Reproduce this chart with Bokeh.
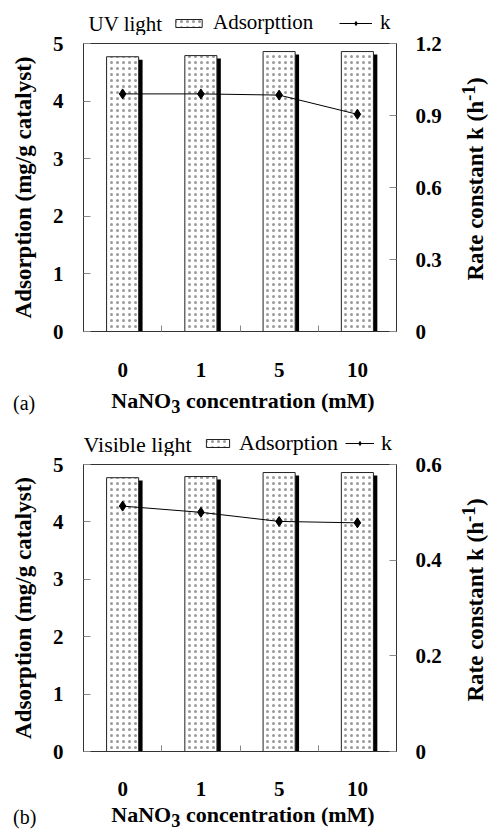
import numpy as np
from bokeh.plotting import figure
from bokeh.models import (Range1d, LinearAxis, FixedTicker, Legend, LegendItem,
                          Label, ColumnDataSource, Div)
from bokeh.transform import dodge
from bokeh.layouts import column, row
from bokeh.embed import file_html
from bokeh.resources import INLINE

# ---------------- data ----------------
concentrations = ["0", "1", "5", "10"]
uv_adsorption = [4.77, 4.79, 4.86, 4.86]
uv_k = [0.990, 0.990, 0.985, 0.905]
vis_adsorption = [4.77, 4.79, 4.86, 4.86]
vis_k = [0.513, 0.500, 0.481, 0.478]
ads_ticks = [0, 1, 2, 3, 4, 5]
uv_k_ticks = [0, 0.3, 0.6, 0.9, 1.2]
vis_k_ticks = [0, 0.2, 0.4, 0.6]
x_title = "NaNO<sub>3</sub> concentration (mM)"
k_title = "Rate constant k (h<sup>-1</sup>)"

FONT = "Liberation Serif"
AX = "#333333"
TICK = "#888888"
W = 461            # figure width; a 28px column to its right holds the k-axis title
LEFT = 83
FRAME_W = 313
RIGHT = W - LEFT - FRAME_W
BAR_W = 0.41
BAR_STYLE = dict(fill_color="white", line_color="#222222", line_width=1,
                 hatch_pattern="dot", hatch_color="#9a9a9a", hatch_scale=6, hatch_weight=0.5)
LINE_STYLE = dict(line_color="black", line_width=1)
PT_STYLE = dict(marker="diamond", size=10, fill_color="black", line_color="black")


def make_source(ads, k):
    xs = np.arange(len(concentrations)) + 0.5
    return xs, ColumnDataSource(dict(x=xs, ads=ads, k=k))


def legend_fig(src, height, light_label, light_x, ads_label, leg_x, glyph_w, standoff,
               spacing, row_y, font_size):
    f = figure(width=W, height=height, x_range=Range1d(0, FRAME_W), y_range=Range1d(0, height),
               x_axis_type=None, y_axis_type=None, output_backend="svg",
               toolbar_location=None, min_border_left=LEFT, min_border_right=RIGHT,
               min_border_top=0, min_border_bottom=0)
    f.outline_line_color = None
    f.xgrid.visible = False
    f.ygrid.visible = False
    # hidden style proxies of the two series, used only for the legend swatches
    pb = f.vbar(x="x", top="ads", width=BAR_W, source=src, visible=False, **BAR_STYLE)
    pl = f.line("x", "k", source=src, visible=False, **LINE_STYLE)
    pp = f.scatter("x", "k", source=src, visible=False, **PT_STYLE)
    f.add_layout(Legend(items=[LegendItem(label=ads_label, renderers=[pb]),
                               LegendItem(label="k", renderers=[pl, pp])],
                        orientation="horizontal", location=(leg_x, row_y - 12),
                        glyph_width=glyph_w, glyph_height=10, label_height=24,
                        label_standoff=standoff, spacing=spacing, padding=0, margin=0,
                        border_line_color=None, background_fill_alpha=0,
                        inactive_fill_alpha=0,
                        label_text_font=FONT, label_text_font_size=font_size,
                        label_text_color="black"))
    f.add_layout(Label(x=light_x, y=row_y, x_units="screen", y_units="screen",
                       text=light_label, text_font=FONT, text_font_size=font_size,
                       text_baseline="middle", text_color="black"))
    return f


def caption(tag, height, center_y):
    html = (
        f'<div style="position:relative;width:489px;height:{height}px;'
        f'font-family:\'{FONT}\',serif;color:black;">'
        f'<span style="position:absolute;left:13px;top:{center_y}px;transform:translateY(-50%);'
        f'font-size:20px;line-height:1;">{tag}</span>'
        f'<span style="position:absolute;left:243px;top:{center_y}px;transform:translate(-50%,-50%);'
        f'font-size:22px;font-weight:bold;line-height:1;white-space:nowrap;">{x_title}</span>'
        '</div>')
    return Div(text=html, width=489, height=height, margin=0)


def right_title(height, center_y):
    html = (
        f'<div style="position:relative;width:28px;height:{height}px;'
        f'font-family:\'{FONT}\',serif;color:black;">'
        f'<span style="position:absolute;left:12px;top:{center_y}px;'
        f'transform:translate(-50%,-50%) rotate(-90deg);font-size:23px;font-weight:bold;'
        f'line-height:1;white-space:nowrap;">{k_title}</span>'
        '</div>')
    return Div(text=html, width=28, height=height, margin=0)


def main_fig(xs, src, k_ticks, top, frame_h, bottom, tick_standoff):
    n = len(concentrations)
    p = figure(width=W, height=top + frame_h + bottom,
               x_range=Range1d(0, n), y_range=Range1d(0, max(ads_ticks)),
               output_backend="svg", toolbar_location=None,
               min_border_left=LEFT, min_border_right=RIGHT,
               min_border_top=top, min_border_bottom=bottom)
    p.xgrid.visible = False
    p.ygrid.visible = False
    p.outline_line_color = AX
    p.extra_y_ranges = {"k": Range1d(0, max(k_ticks))}

    p.vbar(x=dodge("x", 0.05), top=dodge("ads", -0.05), bottom=0, width=BAR_W, source=src,
           fill_color="black", line_color=None)
    p.vbar(x="x", top="ads", bottom=0, width=BAR_W, source=src, **BAR_STYLE)
    p.line("x", "k", source=src, y_range_name="k", **LINE_STYLE)
    p.scatter("x", "k", source=src, y_range_name="k", **PT_STYLE)

    xa = p.xaxis[0]
    xa.ticker = FixedTicker(ticks=list(xs), minor_ticks=list(np.arange(1, n)))
    xa.major_label_overrides = {float(v): c for v, c in zip(xs, concentrations)}
    xa.major_tick_line_color = None
    xa.minor_tick_in = 6
    xa.minor_tick_out = 0
    xa.minor_tick_line_color = TICK
    xa.axis_line_color = AX
    xa.major_label_standoff = tick_standoff

    ya = p.yaxis[0]
    ya.ticker = FixedTicker(ticks=ads_ticks, minor_ticks=[])
    ya.major_tick_in = 7
    ya.major_tick_out = 0
    ya.major_tick_line_color = TICK
    ya.axis_line_color = AX
    ya.major_label_standoff = 20
    ya.axis_label = "Adsorption (mg/g catalyst)"
    ya.axis_label_standoff = 14

    ra = LinearAxis(y_range_name="k", ticker=FixedTicker(ticks=k_ticks, minor_ticks=[]))
    ra.major_label_overrides = {0: "0"}
    ra.major_tick_in = 7
    ra.major_tick_out = 0
    ra.major_tick_line_color = TICK
    ra.axis_line_color = AX
    ra.major_label_standoff = 19
    p.add_layout(ra, "right")

    for a in (xa, ya, ra):
        a.major_label_text_font = FONT
        a.major_label_text_font_size = "21px"
        a.major_label_text_font_style = "bold"
        a.major_label_text_color = "black"
        a.axis_label_text_font = FONT
        a.axis_label_text_font_size = "23px"
        a.axis_label_text_font_style = "bold"
        a.axis_label_text_color = "black"
    return p


# panel (a): legend 0-35, chart 35-380, caption 380-420
xs1, src1 = make_source(uv_adsorption, uv_k)
leg1 = legend_fig(src1, 35, "UV light", 5, "Adsorpttion   ", 89, 33, 8, 10,
                  row_y=12, font_size="21px")
main1 = main_fig(xs1, src1, uv_k_ticks, top=8, frame_h=288, bottom=49, tick_standoff=25)
chart1 = row(main1, right_title(345, 144), spacing=0)
cap1 = caption("(a)", 40, 23)
# panel (b): legend 420-456, chart 456-800, caption 800-830
xs2, src2 = make_source(vis_adsorption, vis_k)
leg2 = legend_fig(src2, 36, "Visible light", 0, "Adsorption", 120, 29, 7, 7,
                  row_y=12, font_size="22px")
main2 = main_fig(xs2, src2, vis_k_ticks, top=8, frame_h=287, bottom=49, tick_standoff=24)
chart2 = row(main2, right_title(344, 144), spacing=0)
cap2 = caption("(b)", 30, 17)

layout = column(leg1, chart1, cap1, leg2, chart2, cap2, spacing=0)
open("out.html", "w").write(file_html(layout, INLINE))
